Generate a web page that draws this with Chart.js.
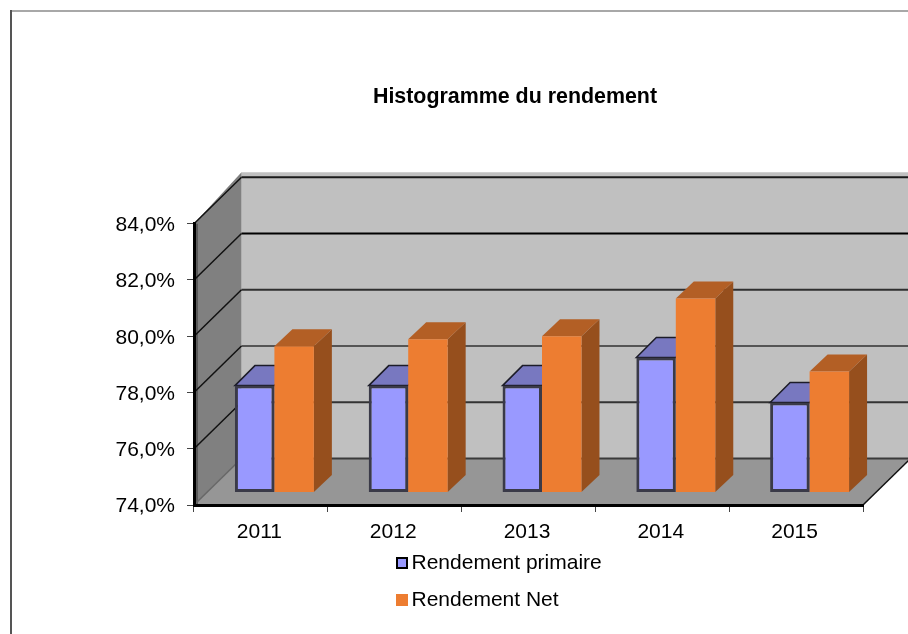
<!DOCTYPE html>
<html lang="fr">
<head>
<meta charset="utf-8">
<title>Histogramme du rendement</title>
<style>html,body{margin:0;padding:0;background:#fff}canvas{display:block}</style>
<script src="https://cdn.jsdelivr.net/npm/chart.js@4"></script>
</head>
<body>
<canvas id="c" width="908" height="634"></canvas>
<script>
const titleText = 'Histogramme du rendement';
const categories = ['2011', '2012', '2013', '2014', '2015'];
const primaire = [77.8, 77.8, 77.8, 78.8, 77.2];
const net = [79.2, 79.45, 79.55, 80.9, 78.3];
const yTickLabels = ['74,0%', '76,0%', '78,0%', '80,0%', '82,0%', '84,0%'];
const gridShades = ['#3a3a3a', '#333333', '#555555', '#2f2f2f', '#000000', '#1a1a1a'];

// 3D projection used by the original: wall depth and bar position/depth
const WALL = { dx: 47.5, dy: 46.5, extra: 5 };
const SHIFT = { dx: 13.5, dy: 12.5 };

function swatch(fill, stroke) {
  const s = document.createElement('canvas');
  s.width = 15; s.height = 12;
  const g = s.getContext('2d');
  g.fillStyle = stroke || fill;
  g.fillRect(3, 0, 12, 12);
  if (stroke) { g.fillStyle = fill; g.fillRect(5, 2, 8, 8); }
  return s;
}
const swatches = [swatch('#9999FF', '#000000'), swatch('#ED7D31')];

function poly(ctx, pts, fill, stroke, lw) {
  ctx.beginPath();
  pts.forEach((p, i) => i ? ctx.lineTo(p[0], p[1]) : ctx.moveTo(p[0], p[1]));
  ctx.closePath();
  ctx.fillStyle = fill;
  ctx.fill();
  if (stroke) { ctx.strokeStyle = stroke; ctx.lineWidth = lw; ctx.stroke(); }
}

const scene = {
  id: 'scene',
  afterLayout(chart) {
    const l = chart.legend;
    l.left = 384; l.right = 700; l.top = 536.5; l.bottom = 660;
    const t = chart.titleBlock;
    t.left = 122; t.right = 908;
  },
  beforeDraw(chart) {
    const { ctx, chartArea: a, scales: { y } } = chart;
    ctx.save();
    // frame
    ctx.fillStyle = '#a8a8a8'; ctx.fillRect(10, 10, 898, 2);
    ctx.fillStyle = '#555555'; ctx.fillRect(10, 10, 2, 624);
    const top = y.getPixelForValue(84), bot = y.getPixelForValue(74);
    const bx = a.left + WALL.dx, br = a.right + WALL.dx;
    // back wall
    poly(ctx, [[bx, top - WALL.dy - WALL.extra], [br, top - WALL.dy - WALL.extra], [br, bot - WALL.dy], [bx, bot - WALL.dy]], '#C0C0C0');
    // side wall
    poly(ctx, [[a.left, top], [bx, top - WALL.dy - WALL.extra], [bx, bot - WALL.dy], [a.left, bot]], '#808080');
    // floor
    poly(ctx, [[a.left, bot], [a.right, bot], [br, bot - WALL.dy], [bx, bot - WALL.dy]], '#969696');
    // side strip
    ctx.fillStyle = '#5a5a5a'; ctx.fillRect(a.left, top, 4, bot - top);
    // grid lines on both walls
    y.ticks.forEach((t, i) => {
      const p = y.getPixelForValue(t.value);
      ctx.strokeStyle = gridShades[i] || '#333';
      ctx.lineWidth = 2;
      ctx.beginPath(); ctx.moveTo(bx, p - WALL.dy); ctx.lineTo(br, p - WALL.dy); ctx.stroke();
      ctx.strokeStyle = i === 0 ? '#666' : '#111';
      ctx.lineWidth = 1.5;
      ctx.beginPath(); ctx.moveTo(a.left, p); ctx.lineTo(bx, p - WALL.dy); ctx.stroke();
    });
    // floor front-right edge
    ctx.strokeStyle = '#111'; ctx.lineWidth = 1.5;
    ctx.beginPath(); ctx.moveTo(a.right, bot); ctx.lineTo(br, bot - WALL.dy); ctx.stroke();
    ctx.restore();
  },
  beforeDatasetsDraw(chart) {
    const ctx = chart.ctx;
    ctx.save();
    ctx.translate(SHIFT.dx, -SHIFT.dy);
    const looks = [
      { topFace: '#7878C0', side: '#5a5a90', line: '#1c1c28', lw: 1.5, dx: 20, dy: 20 },
      { topFace: '#B35F25', side: '#964F1D', dx: 18, dy: 17 }
    ];
    looks.forEach((look, d) => {
      chart.getDatasetMeta(d).data.forEach(el => {
        const { x, y, base, width } = el.getProps(['x', 'y', 'base', 'width'], true);
        const l = x - width / 2, r = x + width / 2;
        poly(ctx, [[r, y], [r + look.dx, y - look.dy], [r + look.dx, base - look.dy], [r, base]], look.side);
        poly(ctx, [[l, y], [l + look.dx, y - look.dy], [r + look.dx, y - look.dy], [r, y]], look.topFace, look.line, look.lw);
      });
    });
  },
  afterDatasetsDraw(chart) {
    chart.ctx.restore();
  }
};

Chart.defaults.font.family = '"Liberation Sans", Arial, sans-serif';
Chart.defaults.color = '#000';

new Chart(document.getElementById('c'), {
  type: 'bar',
  data: {
    labels: categories,
    datasets: [
      { label: 'Rendement primaire', data: primaire, base: 74, backgroundColor: '#9999FF', borderColor: '#3a3a48', borderWidth: 3, borderSkipped: false },
      { label: 'Rendement Net', data: net, base: 74, backgroundColor: '#ED7D31', borderWidth: 0 }
    ]
  },
  plugins: [scene],
  options: {
    responsive: false,
    animation: false,
    layout: { padding: { left: 90, right: 0, top: 0, bottom: 0 } },
    datasets: { bar: { barPercentage: 1, categoryPercentage: 0.59 } },
    scales: {
      x: {
        grid: { display: true, drawOnChartArea: false, drawTicks: true, tickLength: 7, color: '#444' },
        border: { display: true, color: '#000', width: 3 },
        ticks: { font: { size: 21 }, padding: 8, maxRotation: 0, labelOffset: -1.5 },
        afterFit(s) { s.height = 129; }
      },
      y: {
        min: 74, max: 84,
        grid: { display: true, drawOnChartArea: false, drawTicks: true, tickLength: 7, color: '#444' },
        border: { display: true, color: '#000', width: 3 },
        ticks: {
          stepSize: 2, padding: 12, font: { size: 21 }, labelOffset: 1.5,
          callback(v) { return yTickLabels[(v - 74) / 2]; }
        },
        afterFit(s) { s.width = 104; }
      },
      yEdge: {
        axis: 'y', position: 'right', display: true,
        grid: { display: false }, border: { display: false }, ticks: { display: false },
        afterFit(s) { s.width = 45; }
      }
    },
    plugins: {
      title: {
        display: true, text: titleText, color: '#000',
        font: { size: 21.4, weight: 'bold' },
        padding: { top: 84, bottom: 114 }
      },
      legend: {
        position: 'chartArea', align: 'start',
        labels: {
          usePointStyle: true, pointStyleWidth: 1, padding: 16,
          font: { size: 21 }, color: '#000',
          generateLabels(chart) {
            return Chart.defaults.plugins.legend.labels.generateLabels(chart)
              .map((it, i) => Object.assign(it, { pointStyle: swatches[i] }));
          }
        }
      },
      tooltip: { enabled: false }
    }
  }
});
</script>
</body>
</html>
